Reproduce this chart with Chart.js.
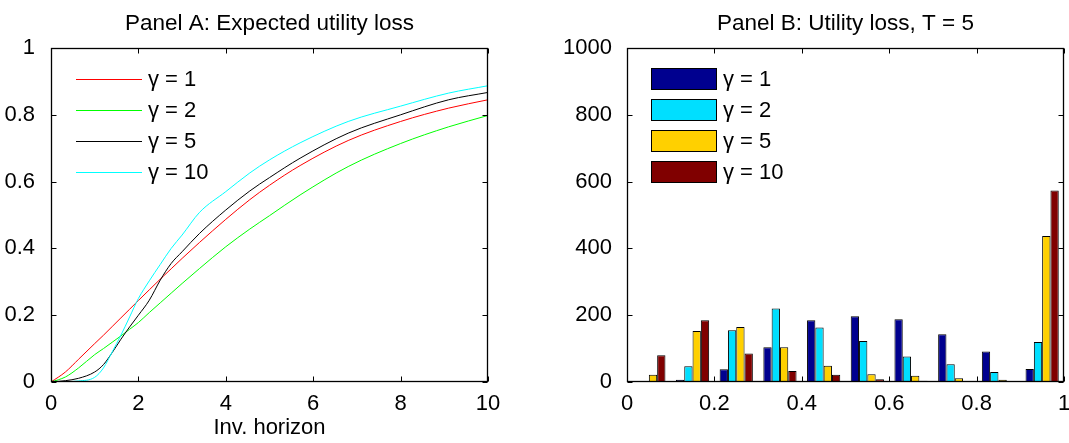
<!DOCTYPE html>
<html>
<head>
<meta charset="utf-8">
<script src="https://cdn.jsdelivr.net/npm/chart.js@4.4.0/dist/chart.umd.min.js"></script>
<style>
  html, body { margin: 0; padding: 0; background: #fff; }
  #wrap { position: relative; width: 1069px; height: 443px; }
  .panel { position: absolute; top: 0; height: 443px; }
  #panelA { left: 0; width: 534px; }
  #panelB { left: 534px; width: 535px; }
</style>
</head>
<body>
<div id="wrap">
  <div class="panel" id="panelA"><canvas id="lossChart"></canvas></div>
  <div class="panel" id="panelB"><canvas id="histChart"></canvas></div>
</div>
<script>
// Panel A - expected utility loss against inverse horizon
const invHorizon = [0, 0.33, 0.63, 1, 1.2, 1.4, 1.6, 1.8, 2, 2.25, 2.5, 2.75, 3, 3.4, 4, 4.55, 5, 5.7, 6.8, 8, 9.1, 10];
const lossGamma1 = [0, 0.03, 0.068, 0.115, 0.14, 0.166, 0.192, 0.218, 0.244, 0.276, 0.308, 0.339, 0.37, 0.418, 0.487, 0.546, 0.589, 0.648, 0.723, 0.78, 0.82, 0.845];
const lossGamma2 = [0, 0.015, 0.042, 0.082, 0.1, 0.119, 0.138, 0.158, 0.178, 0.208, 0.237, 0.266, 0.295, 0.34, 0.405, 0.458, 0.498, 0.56, 0.645, 0.714, 0.764, 0.798];
const lossGamma5 = [0, 0.004, 0.011, 0.03, 0.052, 0.088, 0.128, 0.165, 0.2, 0.245, 0.305, 0.355, 0.39, 0.445, 0.515, 0.572, 0.612, 0.67, 0.745, 0.8, 0.845, 0.867];
const lossGamma10 = [0, 0.001, 0.003, 0.014, 0.042, 0.09, 0.14, 0.195, 0.25, 0.303, 0.352, 0.4, 0.44, 0.508, 0.57, 0.626, 0.665, 0.716, 0.78, 0.826, 0.865, 0.887];

// Panel B - histogram of utility loss, T = 5
const binCenters = [0.05, 0.15, 0.25, 0.35, 0.45, 0.55, 0.65, 0.75, 0.85, 0.95];
const countGamma1 = [1, 7, 38, 104, 185, 197, 188, 143, 91, 39];
const countGamma2 = [1, 47, 155, 220, 163, 123, 76, 53, 30, 120];
const countGamma5 = [22, 153, 165, 104, 49, 23, 19, 11, 7, 437];
const countGamma10 = [80, 185, 85, 33, 22, 8, 4, 2, 1, 573];

const gammaLabels = ['γ = 1', 'γ = 2', 'γ = 5', 'γ = 10'];
const lineColors = ['#ff0000', '#00ff00', '#000000', '#00ffff'];
const barColors = ['#00008f', '#00dfff', '#ffd000', '#800000'];

Chart.defaults.font.family = '"Liberation Sans", Arial, Helvetica, sans-serif';
Chart.defaults.font.size = 22;
Chart.defaults.color = '#000';

// matlab style box with inward ticks on all four sides
const boxTicks = {
    id: 'boxTicks',
    afterDraw(chart) {
        const { ctx, chartArea: a, scales } = chart;
        const l = Math.round(a.left) + 0.5, r = Math.round(a.right) - 0.5;
        const t = Math.round(a.top) + 0.5, b = Math.round(a.bottom) - 0.5;
        ctx.save();
        ctx.strokeStyle = '#000';
        ctx.lineWidth = 1;
        ctx.beginPath();
        scales.x.ticks.forEach(tk => {
            const px = Math.round(scales.x.getPixelForValue(tk.value)) + 0.5;
            ctx.moveTo(px, b); ctx.lineTo(px, b - 5);
            ctx.moveTo(px, t); ctx.lineTo(px, t + 5);
        });
        scales.y.ticks.forEach(tk => {
            const py = Math.round(scales.y.getPixelForValue(tk.value)) + 0.5;
            ctx.moveTo(l, py); ctx.lineTo(l + 5, py);
            ctx.moveTo(r, py); ctx.lineTo(r - 5, py);
        });
        ctx.stroke();
        ctx.lineWidth = 1.3;
        ctx.strokeRect(l, t, r - l, b - t);
        ctx.restore();
    }
};

// legend drawn inside the plot, top left, like the original
const innerLegend = {
    id: 'innerLegend',
    afterDatasetsDraw(chart, args, opts) {
        const { ctx, chartArea: a } = chart;
        ctx.save();
        ctx.font = '22px "Liberation Sans", Arial, sans-serif';
        ctx.textBaseline = 'middle';
        ctx.fillStyle = '#000';
        chart.data.datasets.forEach((ds, i) => {
            const y = a.top + 31 + i * 31;
            const x0 = a.left + opts.offset;
            if (opts.style === 'line') {
                ctx.strokeStyle = ds.borderColor;
                ctx.lineWidth = 1;
                ctx.beginPath();
                ctx.moveTo(x0, y + 0.5);
                ctx.lineTo(x0 + 66, y + 0.5);
                ctx.stroke();
            } else {
                ctx.fillStyle = ds.backgroundColor;
                ctx.fillRect(x0, y - 11, 66, 22);
                ctx.strokeStyle = '#000';
                ctx.lineWidth = 1;
                ctx.strokeRect(x0 + 0.5, y - 10.5, 65, 21);
                ctx.fillStyle = '#000';
            }
            ctx.fillText(ds.label, x0 + 72, y + 1);
        });
        ctx.restore();
    }
};

function fixY(width) {
    return s => { s.width = width; s.paddingTop = 0; s.paddingBottom = 0; };
}
function fixX(s) {
    s.height = 61; s.paddingLeft = 0; s.paddingRight = 0;
}
// 1 instead of 1.0, 1000 instead of 1,000
const plainNum = v => String(Number(v.toFixed(2)));

const titleOpts = text => ({
    display: true,
    text: text,
    fullSize: false,
    font: { size: 22.5, weight: 'normal' },
    color: '#000',
    padding: { top: 10, bottom: 11 }
});

new Chart(document.getElementById('lossChart'), {
    type: 'line',
    data: {
        datasets: [lossGamma1, lossGamma2, lossGamma5, lossGamma10].map((vals, i) => ({
            label: gammaLabels[i],
            data: vals.map((v, j) => ({ x: invHorizon[j], y: v })),
            borderColor: lineColors[i],
            borderWidth: 1,
            pointRadius: 0,
            cubicInterpolationMode: 'monotone',
            fill: false,
            order: 4 - i
        }))
    },
    options: {
        responsive: true,
        maintainAspectRatio: false,
        animation: false,
        layout: { padding: { left: 0, right: 46, top: 0, bottom: 0 } },
        plugins: {
            legend: { display: false },
            tooltip: { enabled: false },
            title: titleOpts('Panel A: Expected utility loss'),
            innerLegend: { style: 'line', offset: 25 }
        },
        scales: {
            x: {
                type: 'linear',
                min: 0, max: 10,
                grid: { display: false },
                border: { display: false },
                ticks: { stepSize: 2, padding: 1, maxRotation: 0, callback: plainNum },
                title: { display: true, text: 'Inv. horizon', font: { size: 22 }, padding: { top: 0, bottom: 2 } },
                afterFit: fixX
            },
            y: {
                min: 0, max: 1,
                grid: { display: false },
                border: { display: false },
                ticks: { stepSize: 0.2, padding: 8, callback: plainNum },
                afterFit: fixY(51)
            }
        }
    },
    plugins: [boxTicks, innerLegend]
});

new Chart(document.getElementById('histChart'), {
    type: 'bar',
    data: {
        datasets: [countGamma1, countGamma2, countGamma5, countGamma10].map((vals, i) => ({
            label: gammaLabels[i],
            data: vals.map((v, j) => ({ x: binCenters[j], y: v })),
            backgroundColor: barColors[i],
            borderColor: '#000',
            borderWidth: 1,
            categoryPercentage: 0.76,
            barPercentage: 1
        }))
    },
    options: {
        responsive: true,
        maintainAspectRatio: false,
        animation: false,
        layout: { padding: { left: 0, right: 5, top: 0, bottom: 0 } },
        plugins: {
            legend: { display: false },
            tooltip: { enabled: false },
            title: titleOpts('Panel B: Utility loss, T = 5'),
            innerLegend: { style: 'box', offset: 24 }
        },
        scales: {
            x: {
                type: 'linear',
                min: 0, max: 1,
                offset: false,
                grid: { display: false, offset: false },
                border: { display: false },
                ticks: { stepSize: 0.2, padding: 1, maxRotation: 0, callback: plainNum },
                afterFit: fixX
            },
            y: {
                min: 0, max: 1000,
                grid: { display: false },
                border: { display: false },
                ticks: { stepSize: 200, padding: 7, callback: plainNum },
                afterFit: fixY(93)
            }
        }
    },
    plugins: [boxTicks, innerLegend]
});
</script>
</body>
</html>
